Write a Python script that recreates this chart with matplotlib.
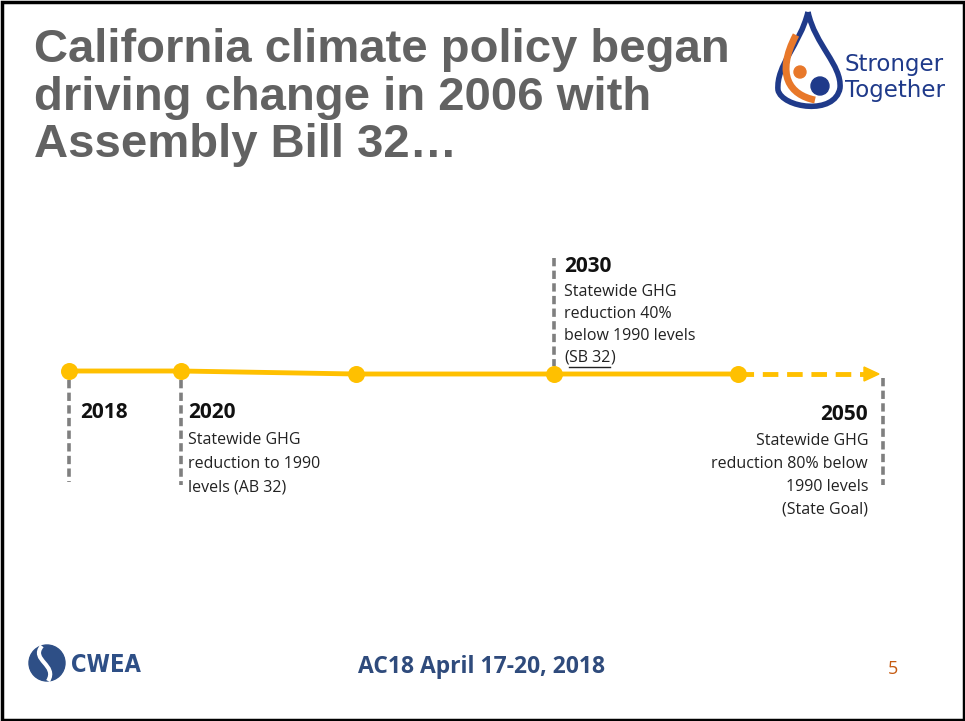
import matplotlib
matplotlib.use("Agg")
import matplotlib.pyplot as plt
from matplotlib.patches import Rectangle, Circle, PathPatch, Polygon
from matplotlib.path import Path

# slide content
title_lines = ["California climate policy began",
               "driving change in 2006 with",
               "Assembly Bill 32\u2026"]
years = ["2018", "2020", "", "2030", ""]
node_x = [69, 181, 356, 554, 738]
node_y = [371, 371, 374, 374, 374]
desc_2020 = ["Statewide GHG", "reduction to 1990", "levels (AB 32)"]
desc_2030 = ["Statewide GHG", "reduction 40%", "below 1990 levels"]
desc_2050 = ["Statewide GHG", "reduction 80% below", "1990 levels", "(State Goal)"]
footer = "AC18 April 17-20, 2018"
page = "5"

GOLD = "#FFC000"
GREY = "#7F7F7F"
TITLE = "#626262"
BODY = "Open Sans"
NAVY = "#1F3A8A"

fig = plt.figure(figsize=(9.65, 7.21), dpi=100)
ax = fig.add_axes([0, 0, 1, 1])
ax.set_xlim(0, 965)
ax.set_ylim(721, 0)
ax.axis("off")

# slide border
ax.add_patch(Rectangle((1.5, 1.5), 962, 718, fill=False, ec="black", lw=2.5))

# title
for i, line in enumerate(title_lines):
    ax.text(34, 62 + i * 47.5, line, fontsize=34, fontweight="bold",
            family="Liberation Sans", color=TITLE, va="baseline", ha="left")

# timeline
ax.plot(node_x, node_y, color=GOLD, lw=3.5, solid_capstyle="round", zorder=3)
ax.plot([node_x[-1], 866], [374, 374], color=GOLD, lw=3.5, ls=(0, (3.2, 1.8)), zorder=3)
ax.add_patch(Polygon([[864, 367], [879, 374], [864, 381]], closed=True,
                     color=GOLD, zorder=3))
ax.scatter(node_x, node_y, s=150, color=GOLD, zorder=4, linewidths=0)

# dashed drop lines
dash = dict(color=GREY, lw=2.6, ls=(0, (2.3, 1.2)), zorder=2)
ax.plot([69, 69], [380, 482], **dash)
ax.plot([181, 181], [380, 485], **dash)
ax.plot([554, 554], [258, 366], **dash)
ax.plot([883, 883], [378, 485], **dash)

# year labels
ax.text(80, 413, years[0], fontsize=15, fontweight="bold", family=BODY,
        color="#111111", va="center")
ax.text(188, 413, years[1], fontsize=15, fontweight="bold", family=BODY,
        color="#111111", va="center")
for i, line in enumerate(desc_2020):
    ax.text(188, 440 + i * 23.5, line, fontsize=11.5, family=BODY,
            color="#222222", va="center")

ax.text(564, 267, years[3], fontsize=15, fontweight="bold", family=BODY,
        color="#111111", va="center")
for i, line in enumerate(desc_2030):
    ax.text(564, 292 + i * 22, line, fontsize=11.5, family=BODY,
            color="#222222", va="center")
t1 = ax.text(564, 358, "(", fontsize=11.5, family=BODY, color="#222222", va="center")
fig.canvas.draw()
r = fig.canvas.get_renderer()
w1 = t1.get_window_extent(r).width
t2 = ax.text(564 + w1, 358, "SB 32", fontsize=11.5, family=BODY, color="#222222",
             va="center")
w2 = t2.get_window_extent(r).width
ax.text(564 + w1 + w2, 358, ")", fontsize=11.5, family=BODY, color="#222222",
        va="center")
ax.plot([564 + w1, 564 + w1 + w2], [367, 367], color="#222222", lw=1)

ax.text(868, 415, "2050", fontsize=15, fontweight="bold", family=BODY,
        color="#111111", va="center", ha="right")
for i, line in enumerate(desc_2050):
    ax.text(868, 441 + i * 23, line, fontsize=11.5, family=BODY,
            color="#222222", va="center", ha="right")

# footer
ax.text(481, 667, footer, fontsize=16.5, fontweight="bold", family=BODY,
        color="#2F4B7C", va="center", ha="center")
ax.text(893, 669, page, fontsize=13, family=BODY, color="#C55A11",
        va="center", ha="center")

# CWEA logo
ax.add_patch(Circle((47, 663), 18, color="#2E4F86"))
ax.add_patch(PathPatch(Path([(42, 646), (30, 660), (58, 665), (48, 681)],
                            [Path.MOVETO, Path.CURVE4, Path.CURVE4, Path.CURVE4]),
                       fc="none", ec="white", lw=3))
ax.text(71, 665, "CWEA", fontsize=17, fontweight="bold", family="DejaVu Sans",
        fontstretch="condensed", color="#2E4F86", va="center", ha="left")

# Stronger Together logo
drop = Path([(808, 12), (800, 45), (776, 65), (778, 90), (782, 108),
             (835, 116), (840, 88), (842, 65), (815, 45), (808, 12)],
            [Path.MOVETO, Path.CURVE4, Path.CURVE4, Path.CURVE4,
             Path.CURVE4, Path.CURVE4, Path.CURVE4, Path.CURVE4,
             Path.CURVE4, Path.CURVE4])
ax.add_patch(PathPatch(drop, fc="none", ec=NAVY, lw=4))
ax.add_patch(Circle((800, 72), 6, color="#E8782A"))
ax.add_patch(PathPatch(Path([(796, 35), (775, 75), (790, 95), (815, 100)],
                            [Path.MOVETO, Path.CURVE4, Path.CURVE4, Path.CURVE4]),
                       fc="none", ec="#E8782A", lw=5))
ax.add_patch(Circle((820, 86), 9, color=NAVY))
ax.text(845, 65, "Stronger", fontsize=16.5, family="DejaVu Sans", color=NAVY,
        va="center")
ax.text(845, 90, "Together", fontsize=16.5, family="DejaVu Sans", color=NAVY,
        va="center")

fig.savefig("out.png", dpi=100)
